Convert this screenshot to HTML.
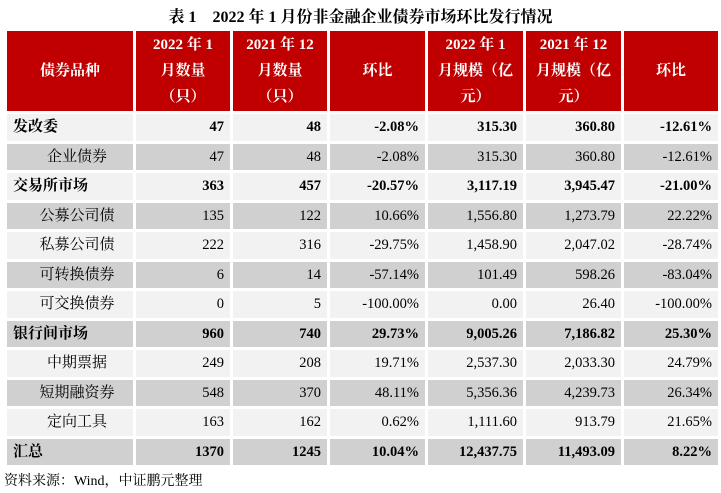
<!DOCTYPE html>
<html><head><meta charset="utf-8"><style>
body{margin:0;width:721px;height:493px;background:#fff;font-family:"Liberation Serif","Noto Serif CJK SC",serif;position:relative;overflow:hidden}
.t{position:absolute;top:4px;left:0;width:721px;text-align:center;font-size:16px;font-weight:bold;color:#000}
table{position:absolute;left:4px;top:28px;border-collapse:separate;border-spacing:3px 3px}
td{padding:0 6px;font-size:14.5px;height:26.5px;line-height:26.5px;text-align:right;color:#000;white-space:nowrap;overflow:hidden}
th{background:#c00000;color:#fff;font-size:15px;font-weight:bold;height:80px;line-height:26px;padding:0}
tr.l td{background:#f2f2f2}tr.d td{background:#d0d0d0}
tr.b td{font-weight:bold}
td.n{text-align:left;font-size:15px}
td.s{text-align:center;font-size:15px;padding-left:20px}
.src{position:absolute;left:4px;top:470px;font-size:14px}
</style></head><body>
<div class="t">表 1　2022 年 1 月份非金融企业债券市场环比发行情况</div>
<table>
<colgroup><col style="width:126px"><col style="width:94px"><col style="width:94px"><col style="width:95px"><col style="width:95px"><col style="width:95px"><col style="width:94px"></colgroup>
<tr><th>债券品种</th><th>2022 年 1<br>月数量<br>（只）</th><th>2021 年 12<br>月数量<br>（只）</th><th>环比</th><th>2022 年 1<br>月规模（亿<br>元）</th><th>2021 年 12<br>月规模（亿<br>元）</th><th>环比</th></tr>
<tr class="l b"><td class="n">发改委</td><td>47</td><td>48</td><td>-2.08%</td><td>315.30</td><td>360.80</td><td>-12.61%</td></tr>
<tr class="d"><td class="s">企业债券</td><td>47</td><td>48</td><td>-2.08%</td><td>315.30</td><td>360.80</td><td>-12.61%</td></tr>
<tr class="l b"><td class="n">交易所市场</td><td>363</td><td>457</td><td>-20.57%</td><td>3,117.19</td><td>3,945.47</td><td>-21.00%</td></tr>
<tr class="d"><td class="s">公募公司债</td><td>135</td><td>122</td><td>10.66%</td><td>1,556.80</td><td>1,273.79</td><td>22.22%</td></tr>
<tr class="l"><td class="s">私募公司债</td><td>222</td><td>316</td><td>-29.75%</td><td>1,458.90</td><td>2,047.02</td><td>-28.74%</td></tr>
<tr class="d"><td class="s">可转换债券</td><td>6</td><td>14</td><td>-57.14%</td><td>101.49</td><td>598.26</td><td>-83.04%</td></tr>
<tr class="l"><td class="s">可交换债券</td><td>0</td><td>5</td><td>-100.00%</td><td>0.00</td><td>26.40</td><td>-100.00%</td></tr>
<tr class="d b"><td class="n">银行间市场</td><td>960</td><td>740</td><td>29.73%</td><td>9,005.26</td><td>7,186.82</td><td>25.30%</td></tr>
<tr class="l"><td class="s">中期票据</td><td>249</td><td>208</td><td>19.71%</td><td>2,537.30</td><td>2,033.30</td><td>24.79%</td></tr>
<tr class="d"><td class="s">短期融资券</td><td>548</td><td>370</td><td>48.11%</td><td>5,356.36</td><td>4,239.73</td><td>26.34%</td></tr>
<tr class="l"><td class="s">定向工具</td><td>163</td><td>162</td><td>0.62%</td><td>1,111.60</td><td>913.79</td><td>21.65%</td></tr>
<tr class="d b"><td class="n">汇总</td><td>1370</td><td>1245</td><td>10.04%</td><td>12,437.75</td><td>11,493.09</td><td>8.22%</td></tr>
</table>
<div class="src">资料来源：Wind，中证鹏元整理</div>
</body></html>
